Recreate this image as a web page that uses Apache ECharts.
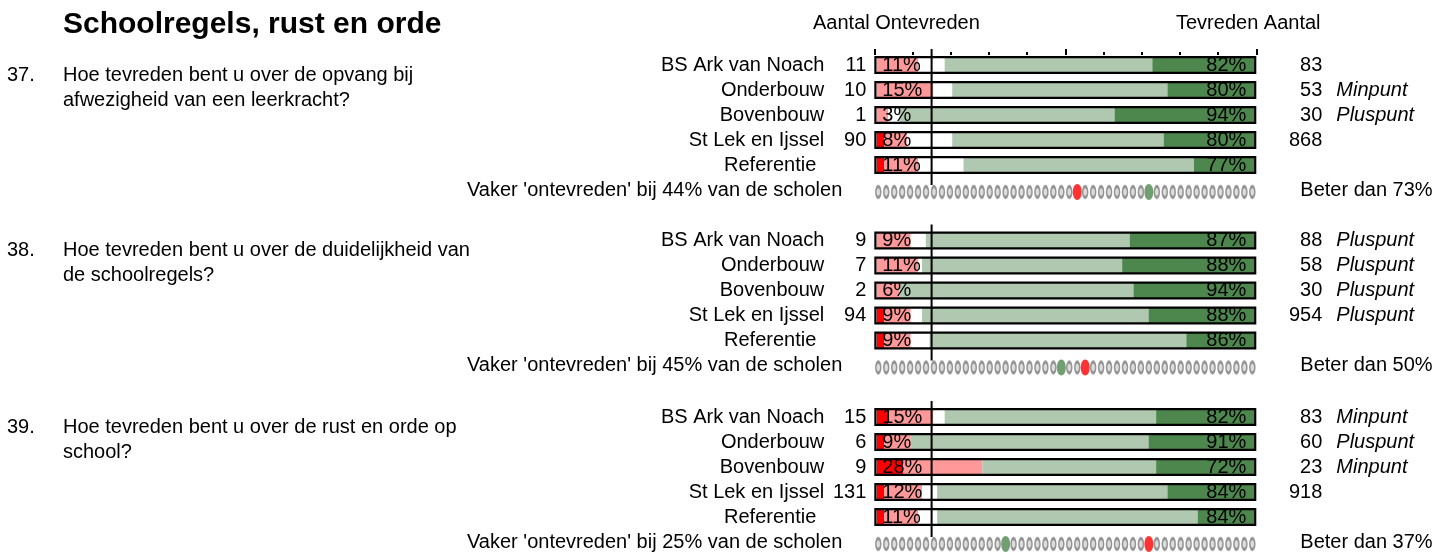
<!DOCTYPE html>
<html>
<head>
<meta charset="utf-8">
<script src="https://cdn.jsdelivr.net/npm/echarts@6/dist/echarts.min.js"></script>
<style>
html, body {margin:0; padding:0; background:#fff;}
#main {width:1437px; height:554px;}
</style>
</head>
<body>
<div id="main"></div>
<script>
var rowNames = ['BS Ark van Noach', 'Onderbouw', 'Bovenbouw', 'St Lek en Ijssel', 'Referentie'];
var questionNr = ['37.', '38.', '39.'];
var questionText = [
	'Hoe tevreden bent u over de opvang bij\nafwezigheid van een leerkracht?',
	'Hoe tevreden bent u over de duidelijkheid van\nde schoolregels?',
	'Hoe tevreden bent u over de rust en orde op\nschool?'
];
var aantalOntevreden = [['11','10','1','90',''], ['9','7','2','94',''], ['15','6','9','131','']];
var aantalTevreden = [['83','53','30','868',''], ['88','58','30','954',''], ['83','60','23','918','']];
var punt = [['','Minpunt','Pluspunt','',''], ['Pluspunt','Pluspunt','Pluspunt','Pluspunt',''], ['Minpunt','Pluspunt','Minpunt','','']];
var pctOntevreden = [[11,15,3,8,11], [9,11,6,9,9], [15,9,28,12,11]];
var pctTevreden = [[82,80,94,80,77], [87,88,94,88,86], [82,91,72,84,84]];
// stukken van de gestapelde balk (in %)
var zeerOntevreden = [[0,0,0,2,2], [0,0,0,2,2], [3,2,7,2,2]];
var ontevreden = [[11,15,3,6,9], [9,11,6,7,7], [12,7,21,10,9]];
var neutraal = [[7,5,3,12,12], [4,1,0,3,5], [3,0,0,4,5]];
var tevreden = [[55,57,57,56,61], [54,53,62,60,68], [56,63,46,61,69]];
var zeerTevreden = [[27,23,37,24,16], [33,35,32,28,18], [26,28,26,23,15]];
var vakerOntevreden = ['44%', '45%', '25%'];
var beterDan = ['73%', '50%', '37%'];
var aantalScholen = 48;
var dotRood = [25, 26, 34];
var dotGroen = [34, 23, 16];
var grensLijn = 15;

var FONT = '"Liberation Sans", Arial, sans-serif';
var colors = ['#ff0000', '#ff9999', '#ffffff', '#b0c8b0', '#4d874d'];
var gridTops = [52.5, 228, 404.5];

var myChart = echarts.init(document.getElementById('main'));

function leftLabel(s) {
	return function(value, index) {
		if (index == 5) {
			return '{v|Vaker \'ontevreden\' bij ' + vakerOntevreden[s] + ' van de scholen}{e| }';
		}
		var st = index == 4 ? 'r' : 'n';
		return '{' + st + '|' + rowNames[index] + '}{c|' + (aantalOntevreden[s][index] || ' ') + '}';
	};
}
function rightLabel(s) {
	return function(value, index) {
		if (index == 5) {
			return '{b|Beter dan ' + beterDan[s] + '}';
		}
		var str = '{c|' + (aantalTevreden[s][index] || ' ') + '}';
		if (punt[s][index]) {
			str += '{p|' + punt[s][index] + '}';
		}
		return str;
	};
}
function pctLabel(arr) {
	return function(prm) {
		return arr[prm.dataIndex] + '%';
	};
}

var grid = [], xAxis = [], yAxis = [], series = [], title = [];
var cats = rowNames.concat(['vaker']);
var dotCats = [];
for (var i = 0; i < aantalScholen; i++) dotCats.push(i);

title.push({text: 'Schoolregels, rust en orde', left: 63, top: 10, padding: 0,
	textStyle: {fontFamily: FONT, fontSize: 30, fontWeight: 'bold', color: '#000'}});
title.push({text: 'Aantal Ontevreden', left: 813, top: 13, padding: 0,
	textStyle: {fontFamily: FONT, fontSize: 20, fontWeight: 'normal', color: '#000'}});
title.push({text: 'Tevreden Aantal', left: 1176, top: 13, padding: 0,
	textStyle: {fontFamily: FONT, fontSize: 20, fontWeight: 'normal', color: '#000'}});

for (var s = 0; s < 3; s++) {
	var gTop = gridTops[s];
	grid.push({left: 874.3, width: 382, top: gTop, height: 150, outerBoundsMode: 'none'});

	title.push({text: questionNr[s], left: 7, top: gTop + 10, padding: 0,
		textStyle: {fontFamily: FONT, fontSize: 20, fontWeight: 'normal', color: '#000', lineHeight: 25}});
	title.push({text: questionText[s], left: 63, top: gTop + 10, padding: 0,
		textStyle: {fontFamily: FONT, fontSize: 20, fontWeight: 'normal', color: '#000', lineHeight: 25}});

	var xFill = s * 3, xFrame = s * 3 + 1, xDots = s * 3 + 2;
	var yLeft = s * 2, yRight = s * 2 + 1;

	xAxis.push({gridIndex: s, type: 'value', min: -0.64, max: 100.53, show: false});
	xAxis.push({gridIndex: s, type: 'value', min: 0, max: 100, interval: 50, position: 'top', show: s == 0, offset: -2.5,
		axisLine: {show: false}, axisLabel: {show: false}, splitLine: {show: false},
		axisTick: {show: true, length: 6, lineStyle: {color: '#000', width: 2}},
		minorTick: {show: true, splitNumber: 5, length: 3, lineStyle: {color: '#000', width: 2}},
		minorSplitLine: {show: false}});
	xAxis.push({gridIndex: s, type: 'category', data: dotCats, show: false});

	yAxis.push({gridIndex: s, type: 'category', data: cats, inverse: true, position: 'left',
		axisLine: {show: false}, axisTick: {show: false}, splitLine: {show: false},
		axisLabel: {interval: 0, margin: 8, formatter: leftLabel(s), fontFamily: FONT, fontSize: 20, color: '#000',
			rich: {
				n: {fontFamily: FONT, fontSize: 20, color: '#000'},
				r: {fontFamily: FONT, fontSize: 20, color: '#000', padding: [0, 8, 0, 0]},
				c: {fontFamily: FONT, fontSize: 20, color: '#000', width: 42, align: 'right'},
				v: {fontFamily: FONT, fontSize: 20, color: '#000'},
				e: {width: 24}
			}}});
	yAxis.push({gridIndex: s, type: 'category', data: cats, inverse: true, position: 'right',
		axisLine: {show: false}, axisTick: {show: false}, splitLine: {show: false},
		axisLabel: {interval: 0, margin: 6, formatter: rightLabel(s), fontFamily: FONT, fontSize: 20, color: '#000',
			rich: {
				c: {fontFamily: FONT, fontSize: 20, color: '#000', width: 60, align: 'right'},
				p: {fontFamily: FONT, fontSize: 20, color: '#000', fontStyle: 'italic', align: 'right', padding: [0, 0, 0, 14]},
				b: {fontFamily: FONT, fontSize: 20, color: '#000', padding: [0, 0, 0, 38]}
			}}});

	var parts = [zeerOntevreden[s], ontevreden[s], neutraal[s], tevreden[s], zeerTevreden[s]];
	for (var p = 0; p < parts.length; p++) {
		var ser = {
			type: 'bar', stack: 'q' + s, xAxisIndex: xFill, yAxisIndex: yLeft,
			barWidth: 15, silent: true,
			data: parts[p].concat(['-']),
			itemStyle: {color: colors[p]}
		};
		if (p == 4) {
			ser.label = {show: true, position: 'insideRight', distance: 8, color: '#000',
				fontFamily: FONT, fontSize: 20, formatter: pctLabel(pctTevreden[s])};
		}
		series.push(ser);
	}

	// zwarte kader om elke balk
	series.push({
		type: 'bar', xAxisIndex: xFrame, yAxisIndex: yRight, barWidth: 18, silent: true, z: 3,
		data: [100, 100, 100, 100, 100, '-'],
		itemStyle: {color: 'rgba(0,0,0,0)', borderColor: '#000', borderWidth: 2.2},
		label: {show: true, position: 'insideLeft', distance: 8, color: '#000', fontFamily: FONT, fontSize: 20,
			formatter: pctLabel(pctOntevreden[s])}
	});

	series.push({
		type: 'custom', xAxisIndex: xFrame, yAxisIndex: yLeft, z: 5, silent: true,
		data: [[grensLijn, 0]],
		renderItem: function(params, api) {
			var a = api.coord([api.value(0), 0]);
			var b = api.coord([api.value(0), 4]);
			return {type: 'line', shape: {x1: a[0], y1: a[1] - 16, x2: b[0], y2: b[1] + 20},
				style: {stroke: '#000', lineWidth: 2}};
		}
	});

	var grayData = [];
	for (var d = 0; d < aantalScholen; d++) {
		if (d != dotRood[s] && d != dotGroen[s]) grayData.push([d, 5]);
	}
	series.push({
		type: 'scatter', xAxisIndex: xDots, yAxisIndex: yLeft, silent: true,
		symbol: 'circle', symbolSize: [5, 11], symbolOffset: [0, 2],
		itemStyle: {color: '#d4d4d4', borderColor: '#7f7f7f', borderWidth: 2.2},
		data: grayData
	});
	series.push({
		type: 'scatter', xAxisIndex: xDots, yAxisIndex: yLeft, silent: true,
		symbol: 'circle', symbolSize: [9, 16], symbolOffset: [0, 2],
		itemStyle: {color: '#ff0000'},
		data: [[dotRood[s], 5]]
	});
	series.push({
		type: 'scatter', xAxisIndex: xDots, yAxisIndex: yLeft, silent: true,
		symbol: 'circle', symbolSize: [9, 16], symbolOffset: [0, 2],
		itemStyle: {color: '#4d874d'},
		data: [[dotGroen[s], 5]]
	});
}

var option = {
	animation: false,
	backgroundColor: '#fff',
	title: title,
	grid: grid,
	xAxis: xAxis,
	yAxis: yAxis,
	series: series
};
myChart.setOption(option);
</script>
</body>
</html>
